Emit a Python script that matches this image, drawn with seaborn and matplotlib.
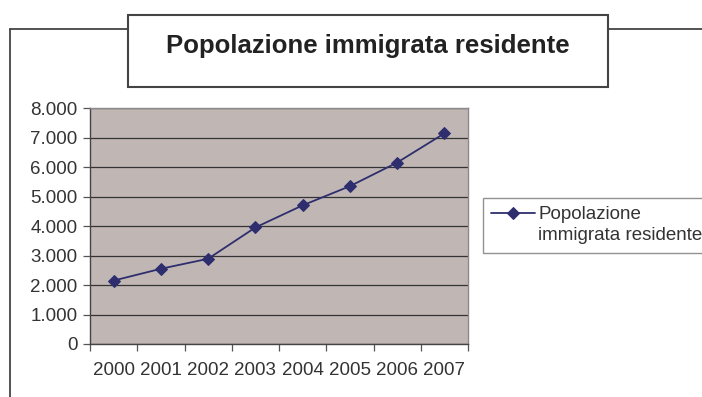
import matplotlib
matplotlib.use("Agg")
import matplotlib.pyplot as plt
import seaborn as sns
import pandas as pd
from matplotlib.patches import Rectangle
from matplotlib.lines import Line2D
from matplotlib.legend_handler import HandlerLine2D
from matplotlib.ticker import FuncFormatter, FixedLocator

years = ["2000", "2001", "2002", "2003", "2004", "2005", "2006", "2007"]
values = [2150, 2550, 2890, 3950, 4700, 5350, 6150, 7140]
title = "Popolazione immigrata residente"
legend_label = "Popolazione\nimmigrata residente"
yticks = [0, 1000, 2000, 3000, 4000, 5000, 6000, 7000, 8000]

sns.set_theme(style="white")
plt.rcParams["font.family"] = ["Liberation Sans", "DejaVu Sans"]

W, H = 702, 397
fig = plt.figure(figsize=(W / 100, H / 100), dpi=100)
fig.patch.set_facecolor("white")

def px(x0, y0, x1, y1):
    return [x0 / W, 1 - y1 / H, (x1 - x0) / W, (y1 - y0) / H]

ax = fig.add_axes(px(90, 108, 468, 344))
ax.set_facecolor("#C0B7B5")

df = pd.DataFrame({"year": years, "value": values})
line_color = "#2E2E6E"
sns.lineplot(data=df, x="year", y="value", ax=ax, color=line_color,
             marker="D", markersize=6.5, markeredgecolor=line_color,
             linewidth=1.3, label=legend_label, sort=False)

ax.set_xlim(-0.5, len(years) - 0.5)
ax.set_ylim(0, 8000)
ax.set_xlabel("")
ax.set_ylabel("")

# x: tick marks at category boundaries, labels centered
ax.xaxis.set_major_locator(FixedLocator([i - 0.5 for i in range(len(years) + 1)]))
ax.xaxis.set_minor_locator(FixedLocator(list(range(len(years)))))
ax.set_xticklabels([""] * (len(years) + 1))
ax.set_xticklabels(years, minor=True)
ax.tick_params(axis="x", which="major", length=5, width=0.9, color="#555555", direction="out", bottom=True)
ax.tick_params(axis="x", which="minor", length=0, pad=13, labelsize=13.5, labelcolor="#333333", bottom=True)

ax.set_yticks(yticks)
ax.yaxis.set_major_formatter(FuncFormatter(lambda v, p: f"{int(v):,}".replace(",", ".")))
ax.tick_params(axis="y", length=5, width=0.9, color="#555555", direction="out", left=True,
               labelsize=13.5, labelcolor="#333333", pad=4)

ax.grid(axis="y", color="#333333", linewidth=0.9)
ax.grid(axis="x", visible=False)
ax.set_axisbelow(True)

for side in ["left", "bottom"]:
    ax.spines[side].set_color("#444444")
    ax.spines[side].set_linewidth(1.0)
for side in ["top", "right"]:
    ax.spines[side].set_color("#8A8A8A")
    ax.spines[side].set_linewidth(1.0)


class ShiftedLineHandler(HandlerLine2D):
    def __init__(self, shift, **kw):
        super().__init__(**kw)
        self.shift = shift

    def create_artists(self, legend, orig_handle, xdescent, ydescent, width, height, fontsize, trans):
        arts = super().create_artists(legend, orig_handle, xdescent, ydescent, width, height, fontsize, trans)
        for a in arts:
            a.set_ydata([y + self.shift for y in a.get_ydata()])
        return arts


# legend
handles, labels = ax.get_legend_handles_labels()
leg = ax.legend(handles, labels, loc="upper left", bbox_to_anchor=(483 / W, 1 - 198 / H),
                bbox_transform=fig.transFigure, frameon=True, fancybox=False,
                fontsize=13.5, handlelength=2.3, handletextpad=0.2,
                borderpad=0.45, borderaxespad=0,
                handler_map={Line2D: ShiftedLineHandler(8.8)})
leg.get_frame().set_edgecolor("#777777")
leg.get_frame().set_linewidth(1.0)
for t in leg.get_texts():
    t.set_color("#333333")
    t.set_linespacing(1.28)

# outer frame lines
frame_color = "#444444"
fig.add_artist(Line2D([10 / W, 10 / W], [1 - 28.5 / H, 0], transform=fig.transFigure,
                      color=frame_color, linewidth=1.3))
fig.add_artist(Line2D([10 / W, 128 / W], [1 - 28.5 / H, 1 - 28.5 / H], transform=fig.transFigure,
                      color=frame_color, linewidth=1.3))
fig.add_artist(Line2D([608 / W, 1], [1 - 28.5 / H, 1 - 28.5 / H], transform=fig.transFigure,
                      color=frame_color, linewidth=1.3))

# title box
r = px(128, 15, 608, 87)
fig.add_artist(Rectangle((r[0], r[1]), r[2], r[3], transform=fig.transFigure,
                         facecolor="white", edgecolor=frame_color, linewidth=1.5))
fig.text((128 + 608) / 2 / W, 1 - 53 / H, title, ha="center", va="baseline",
         fontsize=18.5, fontweight="bold", color="#222222")

fig.savefig("out.png", dpi=100, facecolor="white")
